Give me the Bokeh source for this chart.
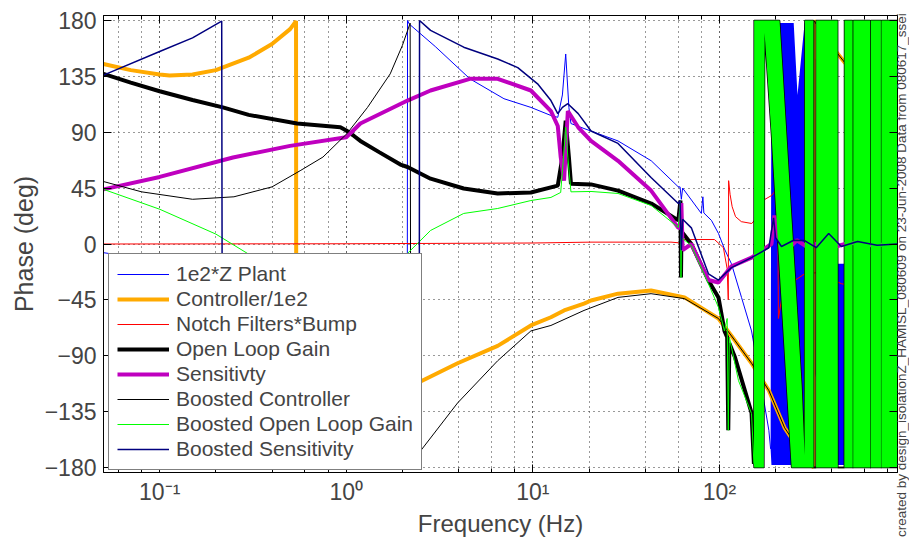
import math
from bokeh.plotting import figure
from bokeh.layouts import row
from bokeh.models import (FixedTicker, LogTicker, LogAxis, LinearAxis, Legend, LegendItem,
                          CustomJSTickFormatter, Range1d, Div)
from bokeh.embed import file_html
from bokeh.resources import INLINE

# ---------------- data (frequency in Hz, phase in degrees) ----------------
plant_f = [0.05, 0.085, 0.2, 0.5, 1.0, 1.6, 2.0, 2.12, 2.13, 2.18, 3.0, 4.6, 7.0, 9.76, 12.5,
           13.6, 14.4, 15.0, 15.6, 16.0, 18.8, 28.6, 43.1, 60.2, 61.5, 62.5, 63.5, 80.0, 81.5,
           82.5, 90.6, 98.8, 106.4, 116.0, 131.3, 148.6, 168.0, 184.0, 188.0]
plant_p = [-7, -12, -20, -35, -60, -110, -160, -180, 180, 177, 159, 133, 117, 110, 103.5,
           102, 120, 153, 110, 97, 93, 83, 67, 46, 46, 36, 45, 24.6, 38,
           25, 19, 8.5, -4, -16, -43, -70, -115, -150, -165]
# envelope of the dense, wrapping plant trace above ~190 Hz
plant_hf_f = [188, 190, 250, 262, 286, 303, 320, 385, 430, 470, 520, 895]
plant_hf_lo = [-165, -178, -178, -178, -178, -178, -100, -150, -178, -178, -178, -178]
plant_hf_hi = [-165, 178, 178, 120, 178, 178, 150, 142, -16, -16, 60, 178]

ctrl_f = [0.05, 0.07, 0.1, 0.113, 0.15, 0.2, 0.3, 0.4, 0.5, 0.538, 0.54, 1.0, 1.5, 2.44, 3.95,
          6.48, 9.76, 12.5, 14.7, 18.8, 20.5, 28.6, 43.0, 65.0, 98.8, 121.0, 148.6, 184.0,
          223.5, 286.0, 320.0, 321.0, 368.0, 470.0, 600.0, 800.0, 900.0]
ctrl_p = [145, 140, 136.5, 135.6, 136.5, 140, 150, 161, 173, 179.5, -180, -150, -130, -111.5, -96,
          -82, -65.6, -59, -53.5, -48, -45.5, -40, -37.4, -43, -60, -77.7, -96, -118,
          -148, -172, -180, 180, 166, 146, 128, 110, 100]

notch_f = [0.05, 1.0, 10.0, 20.5, 55.0, 60.2, 62.0, 64.0, 70.0, 94.0, 100.0, 105.0, 110.0,
           111.5, 112.0, 114.0, 117.0, 122.0, 131.0, 149.0, 160.0, 174.6, 190.0, 200.0, 205.0,
           207.0, 215.0, 223.5, 250.0, 286.0, 340.0, 385.0, 450.0, 600.0, 900.0]
notch_p = [0, 0.2, 0.8, 1.5, 1.5, 1.0, -1.2, 3.6, 3.6, 3.6, 0, -3, -20,
           -45, 51, 40, 30, 22, 18, 16.5, 22, 35.8, 39, 43, 60,
           -60, -45, -37.4, -30, -24, -23, -27, -32, -35, -38]

olg_f = [0.05, 0.07, 0.1, 0.15, 0.218, 0.3, 0.545, 0.93, 1.0, 1.1, 1.19, 1.5, 1.95, 2.13, 2.83,
         4.26, 6.48, 9.76, 13.6, 14.4, 15.0, 15.6, 16.0, 20.5, 28.6, 43.1, 60.2, 61.8, 62.2,
         62.6, 70.7, 87.3, 98.8, 106.4, 110.0, 111.5, 113.0, 121.0, 148.6, 153.0]
olg_p = [137, 130, 123, 116, 110, 104, 97, 94, 91.4, 87, 83, 74, 64, 62, 52.6,
         44.7, 40.7, 41.5, 47, 70, 99.4, 70, 48.6, 48, 43, 32.6, 19, 35, -27,
         10, 0, -29.4, -43, -70, -75, -150, -80, -91, -136, -177]
# envelope of the dense, wrapping open-loop traces above ~153 Hz
olg_hf_f = [153.0, 153.5, 173.0, 174.6, 190.4, 210.0, 229.0, 243.7, 276.0, 286.0, 287.0,
            319.0, 319.5, 329.5, 330.0, 430.0, 431.0, 467.0, 468.0, 517.0, 518.0, 521.0,
            522.0, 642.0, 643.0, 647.0, 648.0, 733.0, 734.0, 737.0, 738.0, 900.0]
olg_hf_lo = [-177, -180, -180, 170, 86.5, -20, -113, -180, -180, -180, -180,
             -180, -180, -180, -180, -180, -180, -180, -180, -180, -180, -180,
             -180, -180, -180, -180, -180, -180, -180, -180, -180, -180]
olg_hf_hi = [-177, 180, 180, 180, 180, 180, 86.5, 19.7, -114, -170, 180,
             180, -180, -180, 180, 180, -180, -180, 180, 180, -180, -180,
             180, 180, -180, -180, 180, 180, -180, -180, 180, 180]

sens_f = [0.05, 0.1, 0.247, 0.5, 1.0, 1.1, 1.19, 2.13, 2.83, 4.6, 6.48, 9.76, 12.5, 13.6, 14.1,
          14.7, 15.4, 17.5, 20.5, 28.6, 43.0, 60.2, 61.5, 62.5, 63.5, 70.7, 87.3, 98.8, 106.4,
          116.0, 148.6, 190.0, 197.0, 205.0, 230.0, 260.0, 300.0, 350.0, 420.0, 500.0, 650.0,
          895.0]
sens_p = [44, 54, 69.7, 79, 86, 92, 97, 115.5, 123.6, 133, 133, 123.6, 107, 95, 70,
          51, 107, 94, 83, 67, 43, 13, 13, 33, -5, 0, -29, -31, -25,
          -18, -11, 0, 23, 5, -5, 3, -3, 2, -2, 1, -1,
          0]

bctrl_f = [0.05, 0.08, 0.15, 0.25, 0.4, 0.566, 0.75, 1.01, 1.3, 1.72, 2.0, 2.2, 2.22, 2.46,
           3.95, 6.48, 9.76, 12.5, 18.8, 28.6, 43.0, 65.0, 98.8, 121.0, 148.6, 184.0, 223.5,
           286.0, 320.0, 321.0, 368.0, 470.0, 600.0, 800.0, 900.0]
bctrl_p = [50.3, 42, 36, 38, 46, 59, 70, 89, 110, 137, 160, 177.8, -180, -168,
           -128, -94, -70, -65.6, -53.5, -43, -40, -44, -60, -77.7, -96, -118, -148,
           -172, -180, 180, 166, 146, 128, 110, 100]

bolg_f = [0.05, 0.1, 0.2, 0.33, 0.6, 1.0, 1.5, 2.02, 2.83, 4.26, 6.48, 9.76, 12.5, 14.1, 14.6,
          15.0, 15.4, 16.0, 20.5, 28.6, 43.1, 60.2, 61.8, 62.2, 62.6, 70.7, 87.3, 98.8, 106.4,
          110.0, 111.5, 113.0, 126.5, 148.6, 153.0]
bolg_p = [44, 28, 8, -12, -30, -45, -40, -11, 10.9, 24.6, 28.6, 35, 37.5, 41.5, 70,
          94, 70, 42, 42.3, 40.7, 31, 13.3, 35, -27, 5, -1.2, -32, -51, -70,
          -60, -150, -75, -110, -136.5, -177]

bsens_f = [0.05, 0.1, 0.15, 0.215, 0.217, 0.3, 1.0, 2.0, 2.46, 2.47, 2.83, 4.26, 6.48, 8.3,
           10.6, 12.5, 13.6, 14.4, 15.4, 17.5, 20.5, 28.6, 43.0, 60.2, 61.5, 62.5, 63.5, 70.7,
           87.3, 98.8, 116.0, 148.6, 184.0, 195.0, 200.0, 215.0, 250.0, 286.0, 330.0, 385.0,
           450.0, 550.0, 700.0, 895.0]
bsens_p = [136, 155, 166, 179.5, -180, -170, -140, -165, -180, 180, 172, 158.5, 149, 142,
           129, 115.5, 105, 110, 113, 105, 91, 81, 53.5, 32.6, 35, -5, 20, 13,
           -24, -29, -19, -11, -3, 21, 5, -2, 3, 2.8, -3, 8.4,
           -2, 2, -1, 0]

yticks = [-180, -135, -90, -45, 0, 45, 90, 135, 180]
ylabels = ["\u2212180", "\u2212135", "\u221290", "\u221245", "0", "45", "90", "135", "180"]

legend_names = ["1e2*Z Plant", "Controller/1e2", "Notch Filters*Bump", "Open Loop Gain",
                "Sensitivty", "Boosted Controller", "Boosted Open Loop Gain",
                "Boosted Sensitivity"]

credit = "created by design_isolationZ_HAMISL_080609 on 23-Jun-2008 Data from 080617_ssei"

# ---------------- figure ----------------
FONT = "Liberation Sans"
p = figure(width=898, height=540, x_axis_type="log",
           x_range=Range1d(0.05, 900), y_range=Range1d(-184, 184),
           output_backend="svg", toolbar_location=None,
           min_border_left=103, min_border_right=1, min_border_top=15, min_border_bottom=68,
           background_fill_color="white", border_fill_color="white")
p.outline_line_color = "black"
p.outline_line_width = 1

xt = LogTicker(mantissas=[1], desired_num_ticks=6)
yt = FixedTicker(ticks=yticks, minor_ticks=[])
fmt = CustomJSTickFormatter(code="""
const e = Math.round(Math.log10(tick));
const sup = {'-':'\u207B','0':'\u2070','1':'\u00B9','2':'\u00B2','3':'\u00B3'};
return '10' + String(e).split('').map(c => sup[c]).join('');
""")

xa = p.xaxis[0]
xa.ticker = xt
xa.formatter = fmt
xa.axis_label = "Frequency (Hz)"
ya = p.yaxis[0]
ya.ticker = yt
ya.major_label_overrides = {v: s for v, s in zip(yticks, ylabels)}
ya.axis_label = "Phase (deg)"

for ax in (xa, ya):
    ax.axis_label_text_font = FONT
    ax.axis_label_text_font_size = "24px"
    ax.axis_label_text_font_style = "normal"
    ax.major_label_text_font = FONT
    ax.major_label_text_font_size = "23px"
    ax.major_tick_in = 8
    ax.major_tick_out = 0
    ax.minor_tick_in = 4
    ax.minor_tick_out = 0
    ax.axis_line_color = "black"
    ax.major_tick_line_color = "black"
    ax.minor_tick_line_color = "black"
ya.axis_label_text_font_size = "25px"
ya.minor_tick_line_color = None
xa.major_label_standoff = 6
xa.axis_label_standoff = 2
ya.major_label_standoff = 7
ya.axis_label_standoff = 4

top = LogAxis(ticker=xt, major_label_text_font_size="1px", major_label_text_color=None,
              major_label_standoff=0,
              major_tick_in=8, major_tick_out=0, minor_tick_in=4, minor_tick_out=0)
right = LinearAxis(ticker=yt, major_label_text_font_size="1px", major_label_text_color=None,
                   major_label_standoff=0,
                   major_tick_in=8, major_tick_out=0, minor_tick_line_color=None)
p.add_layout(top, "above")
p.add_layout(right, "right")

p.xgrid.grid_line_color = "#333333"
p.xgrid.grid_line_dash = "1 4"
p.xgrid.minor_grid_line_color = "#333333"
p.xgrid.minor_grid_line_dash = "1 4"
p.ygrid.grid_line_color = "#333333"
p.ygrid.grid_line_dash = "1 4"

# ---------------- series ----------------
BLUE = "#0000FF"
ORANGE = "#FFAA00"
RED = "#FF0000"
MAG = "#BF00BF"
GREEN = "#00FF00"
NAVY = "#00007F"

r_plant = p.line(plant_f, plant_p, line_color=BLUE, line_width=1)
p.varea(x=plant_hf_f, y1=plant_hf_lo, y2=plant_hf_hi, fill_color=BLUE)

r_ctrl = p.line(ctrl_f, ctrl_p, line_color=ORANGE, line_width=4)
r_notch = p.line(notch_f, notch_p, line_color=RED, line_width=1)
r_olg = p.line(olg_f, olg_p, line_color="black", line_width=4)
p.line(olg_hf_f, olg_hf_hi, line_color="black", line_width=1.5)
p.line(olg_hf_f, olg_hf_lo, line_color="black", line_width=1.5)
r_sens = p.line(sens_f, sens_p, line_color=MAG, line_width=4)
r_bctrl = p.line(bctrl_f, bctrl_p, line_color="black", line_width=1)
r_bolg = p.line(bolg_f, bolg_p, line_color=GREEN, line_width=1)
p.varea(x=olg_hf_f, y1=olg_hf_lo, y2=olg_hf_hi, fill_color=GREEN)
r_bsens = p.line(bsens_f, bsens_p, line_color=NAVY, line_width=1.5)

renderers = [r_plant, r_ctrl, r_notch, r_olg, r_sens, r_bctrl, r_bolg, r_bsens]
legend = Legend(items=[LegendItem(label=n, renderers=[r]) for n, r in zip(legend_names, renderers)],
                location=(5, 2), glyph_width=52, glyph_height=20, label_height=20,
                label_standoff=7, padding=8, spacing=1, margin=0,
                label_text_font=FONT, label_text_font_size="21px",
                border_line_color="black", border_line_width=1.5,
                background_fill_color="white", background_fill_alpha=1)
p.add_layout(legend, "center")

side = Div(text=credit, width=11, height=540, margin=(0, 0, 0, 0),
           styles={"writing-mode": "vertical-rl",
                   "transform": "rotate(180deg) translateX(3px)",
                   "font-family": "Liberation Sans", "font-size": "13.5px",
                   "line-height": "14px", "color": "#444444", "white-space": "nowrap",
                   "padding-top": "3px", "box-sizing": "border-box", "overflow": "visible"})

layout = row(p, side, spacing=0)
open("out.html", "w").write(file_html(layout, INLINE))
